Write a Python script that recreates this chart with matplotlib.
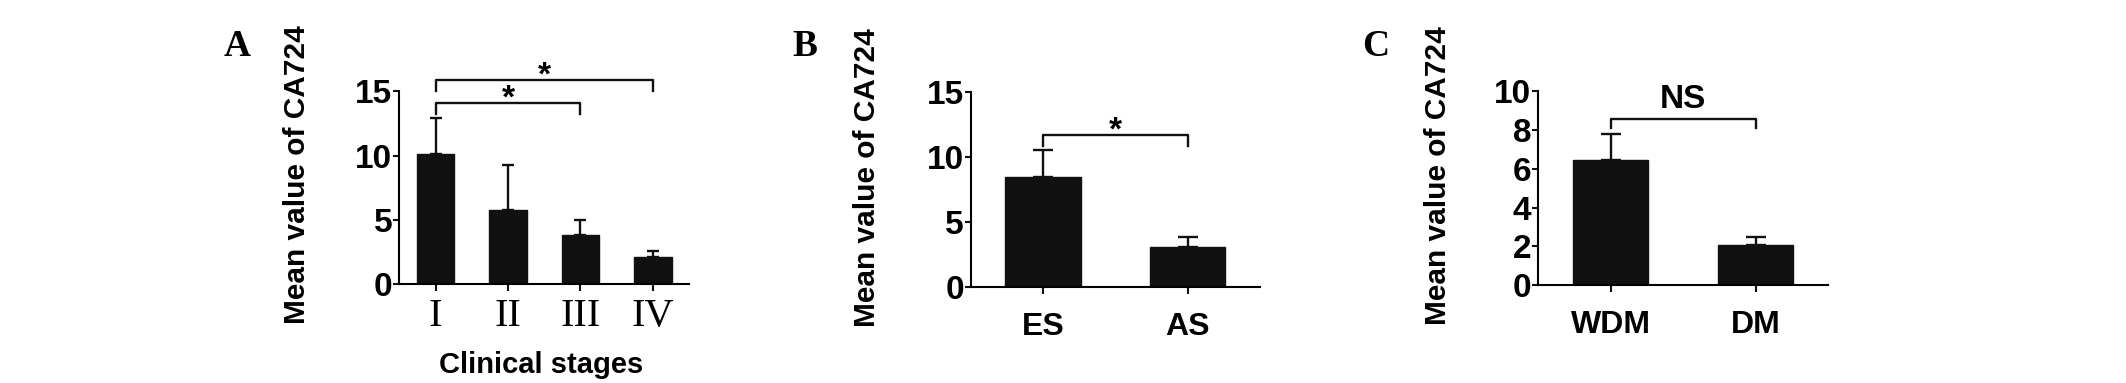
import matplotlib
matplotlib.use("Agg")
from matplotlib import pyplot as plt

# Datos
stages = ['I', 'II', 'III', 'IV']
stage_means = [10.1, 5.8, 3.8, 2.1]
stage_errs = [2.8, 3.5, 1.2, 0.45]

es_as = ['ES', 'AS']
es_as_means = [8.5, 3.1]
es_as_errs = [2.1, 0.8]

wdm_dm = ['WDM', 'DM']
wdm_dm_means = [6.45, 2.05]
wdm_dm_errs = [1.35, 0.45]

W, H = 2126, 383
fig = plt.figure(figsize=(W / 100, H / 100), dpi=100)

sans = 'Liberation Sans'
serif = 'Liberation Serif'
negro = '#111111'


def panel(rect, cats, means, errs, ymax, yticks, capsize, tick_font, tick_size, tick_pad):
    ax = fig.add_axes(rect)
    x = list(range(len(cats)))
    ax.bar(x, means, width=0.52, color=negro, edgecolor=negro, zorder=2)
    ax.errorbar(x, means, yerr=[[0] * len(errs), errs], fmt='none', ecolor=negro,
                elinewidth=1.7, capsize=capsize, capthick=1.7, zorder=1)
    ax.set_xlim(-0.5, len(cats) - 0.5)
    ax.set_ylim(0, ymax)
    ax.set_yticks(yticks)
    ax.set_yticklabels([str(t) for t in yticks], fontfamily=sans, fontweight='bold', fontsize=24)
    ax.set_xticks(x)
    ax.set_xticklabels(cats, fontfamily=tick_font, fontweight='bold' if tick_font == sans else 'normal',
                       fontsize=tick_size)
    for s in ['top', 'right']:
        ax.spines[s].set_visible(False)
    for s in ['left', 'bottom']:
        ax.spines[s].set_linewidth(1.5)
    ax.tick_params(axis='y', length=4, width=1.5, pad=1, color=negro)
    ax.tick_params(axis='x', length=5, width=1.5, pad=tick_pad, color=negro)
    return ax


def bracket(ax, x1, x2, y, drop, label, ly, size):
    ax.plot([x1, x1, x2, x2], [y - drop, y, y, y - drop], color=negro, lw=1.7, clip_on=False)
    ax.text((x1 + x2) / 2, ly, label, ha='center', va='center', fontfamily=sans,
            fontweight='bold', fontsize=size, clip_on=False)


axA = panel([399.3 / W, 98.7 / H, 289.7 / W, 193 / H], stages, stage_means, stage_errs,
            15, [0, 5, 10, 15], 4.2, serif, 29, 5)
bracket(axA, 0, 3, 15.87, 0.83, '*', 16.2, 24)
bracket(axA, 0, 2, 14.09, 0.86, '*', 14.4, 24)

axB = panel([970.7 / W, 95.7 / H, 289.3 / W, 195 / H], es_as, es_as_means, es_as_errs,
            15, [0, 5, 10, 15], 7.5, sans, 23, 13)
bracket(axB, 0, 1, 11.74, 0.84, '*', 12.05, 24)

axC = panel([1538.3 / W, 97.7 / H, 289.7 / W, 194.3 / H], wdm_dm, wdm_dm_means, wdm_dm_errs,
            10, [0, 2, 4, 6, 8, 10], 7.5, sans, 23, 13)
bracket(axC, 0, 1, 8.56, 0.48, 'NS', 9.55, 24)

# Etiquetas de los ejes y letras de panel
for xc, yc in [(296.7, 175), (867.5, 178), (1437.7, 176)]:
    fig.text(xc / W, 1 - yc / H, 'Mean value of CA724', rotation=90, ha='center', va='center',
             fontfamily=sans, fontweight='bold', fontsize=21.5)

fig.text(540.8 / W, 1 - 365 / H, 'Clinical stages', ha='center', va='center',
         fontfamily=sans, fontweight='bold', fontsize=21)

for letra, xc in [('A', 237.5), ('B', 805), ('C', 1376)]:
    fig.text(xc / W, 1 - 46 / H, letra, ha='center', va='center',
             fontfamily=serif, fontweight='bold', fontsize=27)

fig.savefig('out.png', dpi=100)
